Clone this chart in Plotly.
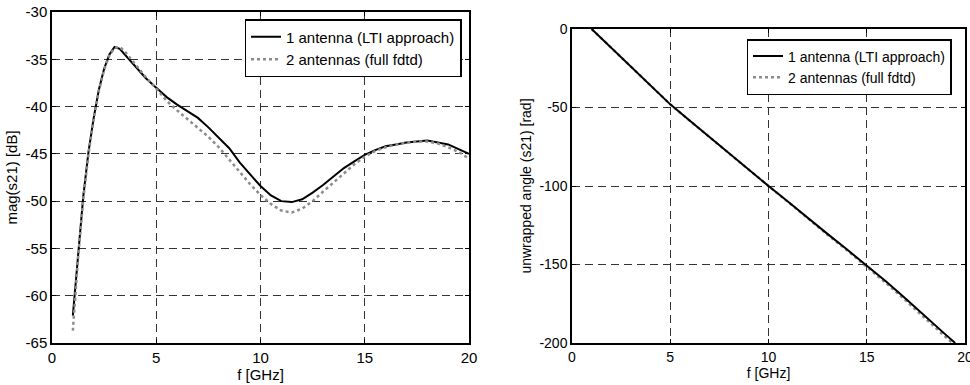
import plotly.graph_objects as go

# ---- data ----
freq_mag = [1.0, 1.25, 1.5, 1.75, 2.0, 2.25, 2.5, 2.75, 3.0, 3.25, 3.5, 4.0, 4.5, 5.0,
            5.5, 6.0, 6.5, 7.0, 7.5, 8.0, 8.5, 9.0, 9.5, 10.0, 10.5, 11.0, 11.5, 12.0,
            12.5, 13.0, 13.5, 14.0, 14.5, 15.0, 15.5, 16.0, 16.5, 17.0, 17.5, 18.0,
            18.5, 19.0, 19.5, 20.0]
mag_lti = [-62.1, -55.5, -49.5, -44.8, -41.2, -38.2, -36.0, -34.5, -33.7, -33.9, -34.5,
           -35.8, -37.0, -38.0, -39.0, -39.8, -40.5, -41.2, -42.2, -43.3, -44.4, -45.9,
           -47.2, -48.4, -49.4, -50.0, -50.1, -49.8, -49.1, -48.3, -47.4, -46.5, -45.8,
           -45.1, -44.6, -44.2, -44.0, -43.8, -43.7, -43.6, -43.8, -44.0, -44.5, -45.0]
mag_fdtd = [-63.7, -56.0, -49.8, -45.0, -41.3, -38.3, -36.1, -34.6, -33.8, -33.7, -34.2,
            -35.6, -36.9, -38.1, -39.4, -40.4, -41.3, -42.2, -43.2, -44.3, -45.6, -46.9,
            -48.2, -49.35, -50.3, -51.0, -51.2, -50.8, -50.0, -49.0, -48.0, -47.0, -46.1,
            -45.3, -44.7, -44.3, -44.0, -43.8, -43.7, -43.7, -43.9, -44.3, -44.8, -45.5]

freq_ph = [1.0, 2.0, 3.0, 4.0, 5.0, 6.0, 7.0, 8.0, 9.0, 10.0, 11.0, 12.0, 13.0, 14.0,
           15.0, 16.0, 17.0, 18.0, 19.0, 19.5]
phase_lti = [0.0, -12.0, -24.0, -36.5, -48.0, -58.5, -69.0, -79.5, -89.5, -100.0, -110.0,
             -120.5, -130.5, -140.5, -150.5, -161.0, -172.0, -183.5, -194.5, -200.0]
phase_fdtd = [0.0, -12.0, -24.0, -36.5, -48.0, -58.5, -69.0, -79.5, -89.5, -100.0, -110.2,
              -120.8, -131.0, -141.0, -151.2, -162.0, -173.2, -184.8, -196.0, -201.5]

names = ["1 antenna (LTI approach)", "2 antennas (full fdtd)"]

x_ticks = [0, 5, 10, 15, 20]
x_labels = ["0", "5", "10", "15", "20"]
mag_ticks = [-65, -60, -55, -50, -45, -40, -35, -30]
mag_labels = ["-65", "-60", "-55", "-50", "-45", "-40", "-35", "-30"]
ph_ticks = [-200, -150, -100, -50, 0]
ph_labels = ["-200", "-150", "-100", "-50", "0"]

FONT = "Liberation Sans, Arial, sans-serif"
W, H = 970, 385
ml, mr, mt, mb = 52, 5, 12, 42
pw = W - ml - mr
ph = H - mt - mb


def px_x(p):
    return (p - ml) / pw


def px_y(p):
    return (H - mb - p) / ph


fig = go.Figure()
solid = dict(color="black", width=2)
dotted = dict(color="#8c8c8c", width=2.5, dash="dot")

fig.add_trace(go.Scatter(x=freq_mag, y=mag_lti, mode="lines", line=solid, name=names[0],
                         xaxis="x", yaxis="y", legend="legend"))
fig.add_trace(go.Scatter(x=freq_mag, y=mag_fdtd, mode="lines", line=dotted, name=names[1],
                         xaxis="x", yaxis="y", legend="legend"))
fig.add_trace(go.Scatter(x=freq_ph, y=phase_fdtd, mode="lines", line=dotted, name=names[1],
                         xaxis="x2", yaxis="y2", legend="legend2"))
fig.add_trace(go.Scatter(x=freq_ph, y=phase_lti, mode="lines", line=solid, name=names[0],
                         xaxis="x2", yaxis="y2", legend="legend2"))


def ax(size, **kw):
    d = dict(
        showline=True, linecolor="black", linewidth=1.5, mirror="allticks",
        ticks="inside", ticklen=4, tickcolor="black", tickmode="array",
        showgrid=True, gridcolor="#333333", gridwidth=1, griddash="8px,5px",
        zeroline=False, tickfont=dict(family=FONT, size=size, color="black"),
        automargin=False, ticklabeloverflow="allow",
    )
    d.update(kw)
    return d


fig.update_layout(
    width=W, height=H,
    margin=dict(l=ml, r=mr, t=mt, b=mb),
    paper_bgcolor="white", plot_bgcolor="white",
    font=dict(family=FONT, size=14, color="black"),
    xaxis=ax(15, domain=[0, px_x(469)], range=[0, 20], anchor="y",
             tickvals=x_ticks, ticktext=x_labels,
             title=dict(text="f [GHz]", font=dict(size=15), standoff=2)),
    yaxis=ax(15, domain=[0, 1], range=[-65, -30], anchor="x",
             tickvals=mag_ticks, ticktext=mag_labels,
             title=dict(text="mag(s21) [dB]", font=dict(size=15), standoff=4)),
    xaxis2=ax(14, domain=[px_x(572), 1], range=[0, 20], anchor="y2",
              tickvals=x_ticks, ticktext=x_labels,
              title=dict(text="f [GHz]", font=dict(size=14), standoff=3)),
    yaxis2=ax(14, domain=[0, px_y(29)], range=[-200, 0], anchor="x2",
              tickvals=ph_ticks, ticktext=ph_labels,
              title=dict(text="unwrapped angle (s21) [rad]", font=dict(size=14), standoff=5)),
    legend=dict(x=px_x(461.5), y=px_y(19), xanchor="right", yanchor="top",
                bgcolor="white", bordercolor="black", borderwidth=1.5,
                font=dict(family=FONT, size=15), itemwidth=30, tracegroupgap=0,
                traceorder="normal"),
    legend2=dict(x=px_x(951.5), y=px_y(39), xanchor="right", yanchor="top",
                 bgcolor="white", bordercolor="black", borderwidth=1.5,
                 font=dict(family=FONT, size=14), itemwidth=30, tracegroupgap=0,
                 traceorder="reversed"),
    showlegend=True,
)

fig.write_html(
    "out.html",
    config={"displayModeBar": False},
    post_script="document.body.style.margin='0px';document.body.style.overflow='hidden';"
                "document.documentElement.style.overflow='hidden';",
)
